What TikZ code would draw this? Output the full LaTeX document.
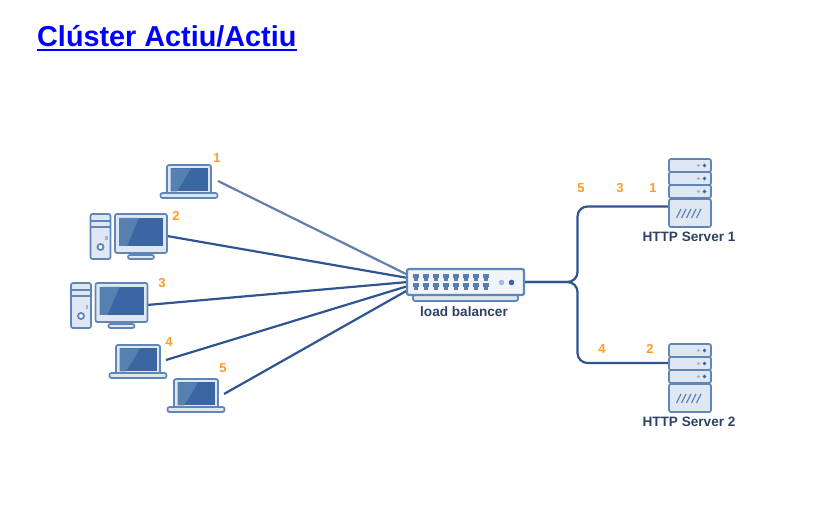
\documentclass[tikz,border=0pt]{standalone}
\usepackage{fontspec}
\setmainfont{Liberation Sans}
\definecolor{edgeblue}{HTML}{5F86B6}
\definecolor{wireblue}{HTML}{2F5492}
\definecolor{screenblue}{HTML}{3A67A3}
\definecolor{glareblue}{HTML}{5580B0}
\definecolor{paleblue}{HTML}{DFE7F2}
\definecolor{tagorange}{HTML}{FF9A20}
\definecolor{labelnavy}{HTML}{2C4266}
\tikzset{
  shell/.style={draw=edgeblue,fill=paleblue,line width=1.7pt,rounded corners=2pt},
  wire/.style={draw=wireblue,line width=2.2pt},
  tag/.style={text=tagorange,font=\bfseries\fontsize{13}{13}\selectfont,inner sep=0pt},
  caption/.style={text=labelnavy,font=\bfseries\fontsize{13.6}{14}\selectfont,inner sep=0pt},
  pics/laptop/.style={code={
    \draw[shell] (-22,0) -- (-22,-28) -- (22,-28) -- (22,0);
    \fill[screenblue] (-18.5,-1.5) rectangle (18.5,-24.5);
    \fill[glareblue] (-18.5,-1.5) -- (-18.5,-24.5) -- (2,-24.5) -- (-12,-1.5) -- cycle;
    \draw[shell] (-28.5,0) rectangle (28.5,5);
    \fill[edgeblue] (-4,0) rectangle (4,1.5);
  }},
  pics/desktop/.style={code={
    \draw[shell] (-50.5,0) rectangle (-30.5,45);
    \draw[edgeblue,line width=1.4pt] (-50.5,7) -- (-30.5,7) (-50.5,13) -- (-30.5,13);
    \draw[edgeblue,fill=white,line width=1.8pt] (-40.5,33) circle (3);
    \fill[edgeblue!60] (-36,22) rectangle (-33.5,26);
    \draw[shell] (-4,39) rectangle (4,42);
    \draw[shell] (-13,41) rectangle (13,45);
    \draw[shell] (-26,0) rectangle (26,39);
    \fill[screenblue] (-22,4) rectangle (22,32);
    \fill[glareblue] (-22,32) -- (-22,4) -- (-2,4) -- (-14,32) -- cycle;
  }},
  pics/rackunit/.style={code={
    \draw[shell] (-21,0) rectangle (21,13);
    \fill[edgeblue!60] (8.5,6.5) circle (1.6);
    \fill[screenblue] (14.5,6.5) circle (1.8);
  }},
  pics/server/.style={code={
    \foreach \row in {0,13,26} {
      \pic at (0,\row) {rackunit};
    }
    \draw[shell] (-21,40) rectangle (21,68);
    \foreach \slash in {-12,-7,-2,3,8} {
      \draw[edgeblue,line width=1.2pt] (\slash-1.5,59) -- (\slash+3,50);
    }
  }},
  pics/balancer/.style={code={
    \draw[shell] (-52.5,13) rectangle (52.5,19);
    \draw[shell,fill=paleblue!45,line width=2.2pt] (-58.5,-13) rectangle (58.5,13);
    \foreach \row in {-4.5,4.5} {
      \foreach \col in {0,...,7} {
        \fill[screenblue!85] (-49.5+10*\col-3.2,\row-3) rectangle (-49.5+10*\col+3.2,\row+0.8);
        \fill[screenblue!85] (-49.5+10*\col-1.7,\row+0.8) rectangle (-49.5+10*\col+1.7,\row+3.2);
      }
    }
    \fill[edgeblue!55] (36,0.5) circle (2.8);
    \fill[screenblue] (46,0.5) circle (2.8);
  }}
}
\begin{document}
\begin{tikzpicture}[x=1pt,y=-1pt]
\useasboundingbox (0,0) rectangle (823,510);
\node[anchor=base west,inner sep=0pt,text=blue,font=\bfseries\fontsize{28.8}{29}\selectfont] (title) at (37,47) {Clúster Actiu/Actiu};
\draw[blue,line width=2pt] ([yshift=-2.6pt]title.base west) -- ([yshift=-2.6pt]title.base east);

\coordinate (lap1) at (218,181);
\coordinate (desk2) at (167,236);
\coordinate (desk3) at (147,305);
\coordinate (lap4) at (166,360);
\coordinate (lap5) at (224,394);
\coordinate (lbin1) at (408,275);
\coordinate (lbin2) at (408,278);
\coordinate (lbin3) at (408,282);
\coordinate (lbin4) at (408,286);
\coordinate (lbin5) at (408,290);
\coordinate (lbout) at (524,282);
\coordinate (srv1in) at (669,206.5);
\coordinate (srv2in) at (669,363);
\coordinate (fork) at (577.5,282);

\draw[wire,draw=wireblue!75] (lap1) -- (lbin1);
\draw[wire] (desk2) -- (lbin2);
\draw[wire] (desk3) -- (lbin3);
\draw[wire] (lap4) -- (lbin4);
\draw[wire] (lap5) -- (lbin5);
\draw[wire,rounded corners=10pt] (lbout) -- (fork) |- (srv1in);
\draw[wire,rounded corners=10pt] (lbout) -- (fork) |- (srv2in);

\pic at (189,193) {laptop};
\pic at (141,214) {desktop};
\pic at (121.5,283) {desktop};
\pic at (138,373) {laptop};
\pic at (196,407) {laptop};
\pic at (465.5,282) {balancer};
\pic at (690,159) {server};
\pic at (690,344) {server};

\node[tag] (tag1) at (217,158) {1};
\node[tag] (tag2) at (176,216) {2};
\node[tag] (tag3) at (162,283) {3};
\node[tag] (tag4) at (169,342) {4};
\node[tag] (tag5) at (223,368) {5};
\node[tag] (srvtag5) at (581,188) {5};
\node[tag] (srvtag3) at (620,188) {3};
\node[tag] (srvtag1) at (653,188) {1};
\node[tag] (srvtag4) at (602,349) {4};
\node[tag] (srvtag2) at (650,349) {2};

\node[caption] (lblabel) at (464,312) {load balancer};
\node[caption] (srv1label) at (689,237) {HTTP Server 1};
\node[caption] (srv2label) at (689,422) {HTTP Server 2};
\end{tikzpicture}
\end{document}
